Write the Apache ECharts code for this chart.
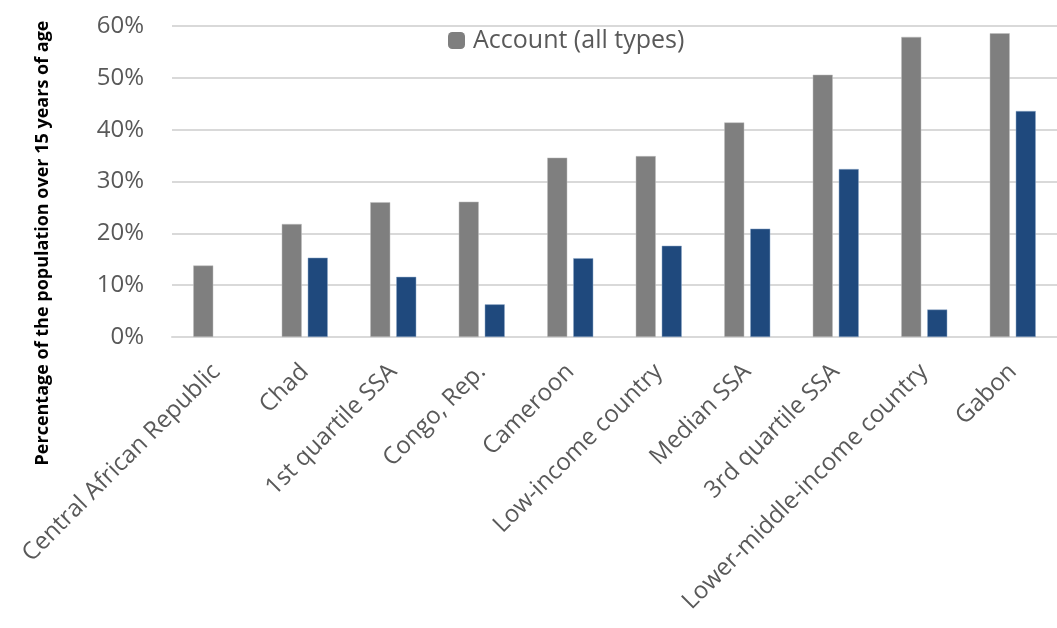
<!DOCTYPE html>
<html>
<head>
<meta charset="utf-8">
<script src="https://cdn.jsdelivr.net/npm/echarts@6/dist/echarts.min.js"></script>
<style>
  html, body { margin: 0; padding: 0; background: #fff; }
  #graph { width: 1057px; height: 628px; }
</style>
</head>
<body>
<div id="graph"></div>
<script>
const categories = ['Central African Republic', 'Chad', '1st quartile SSA', 'Congo, Rep.', 'Cameroon',
  'Low-income country', 'Median SSA', '3rd quartile SSA', 'Lower-middle-income country', 'Gabon'];
const accountAll = [13.8, 21.8, 26.0, 26.1, 34.6, 34.9, 41.4, 50.6, 57.9, 58.6];
const mobileAccount = [null, 15.3, 11.6, 6.3, 15.2, 17.6, 20.9, 32.4, 5.3, 43.6];
const yTicks = [0, 10, 20, 30, 40, 50, 60];

const font = 'Open Sans';
const myChart = echarts.init(document.getElementById('graph'));
myChart.setOption({
  backgroundColor: '#fff',
  animation: false,
  textStyle: { fontFamily: font },
  legend: {
    data: ['Account (all types)'],
    left: 443,
    top: 23,
    itemWidth: 17,
    itemHeight: 17,
    itemGap: 20,
    itemStyle: { borderWidth: 0 },
    textStyle: { color: '#595959', fontSize: 25, fontFamily: font, padding: [0, 0, 0, 3] }
  },
  grid: { left: 172, right: -14, top: 26, bottom: 291, containLabel: false },
  xAxis: {
    type: 'category',
    data: categories,
    axisLine: { lineStyle: { color: '#d9d9d9', width: 2 } },
    axisTick: { show: false },
    axisLabel: {
      rotate: 45,
      interval: 0,
      margin: 31,
      color: '#595959',
      fontSize: 24,
      fontFamily: font
    }
  },
  yAxis: {
    type: 'value',
    min: yTicks[0],
    max: yTicks[yTicks.length - 1],
    interval: 10,
    axisLine: { show: false },
    axisTick: { show: false },
    splitLine: { lineStyle: { color: '#d9d9d9', width: 2 } },
    axisLabel: {
      formatter: '{value}%',
      margin: 28,
      color: '#595959',
      fontSize: 24,
      fontFamily: font
    }
  },
  graphic: [{
    type: 'text',
    x: 43,
    y: 243,
    rotation: Math.PI / 2,
    style: {
      text: 'Percentage of the population over 15 years of age',
      fill: '#000',
      fontSize: 18,
      fontWeight: 'bold',
      fontFamily: font,
      textAlign: 'center',
      textVerticalAlign: 'middle'
    }
  }],
  series: [
    {
      name: 'Account (all types)',
      type: 'bar',
      barWidth: 20,
      barGap: '30%',
      itemStyle: { color: '#7f7f7f', borderColor: '#bfbfbf', borderWidth: 0.5 },
      data: accountAll
    },
    {
      name: 'Mobile money account',
      type: 'bar',
      barWidth: 20,
      itemStyle: { color: '#1f497d', borderColor: '#8ea9c9', borderWidth: 0.5 },
      data: mobileAccount
    }
  ]
});
</script>
</body>
</html>
